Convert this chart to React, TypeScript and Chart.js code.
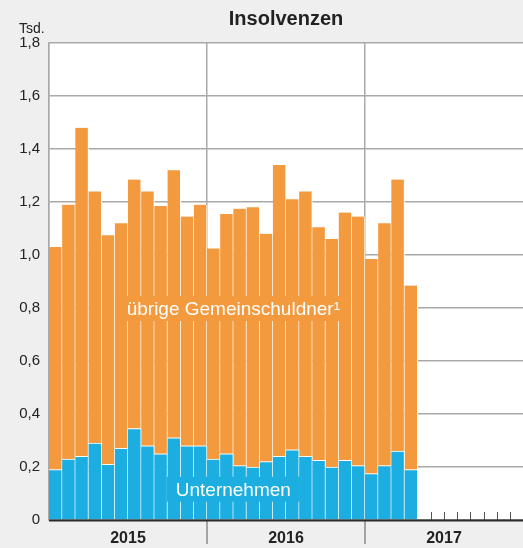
import React, { useEffect, useRef } from "react";
import { Chart, registerables } from "chart.js";

Chart.register(...registerables);

const months: string[] = [
  "Jan 2015", "Feb 2015", "Mär 2015", "Apr 2015", "Mai 2015", "Jun 2015",
  "Jul 2015", "Aug 2015", "Sep 2015", "Okt 2015", "Nov 2015", "Dez 2015",
  "Jan 2016", "Feb 2016", "Mär 2016", "Apr 2016", "Mai 2016", "Jun 2016",
  "Jul 2016", "Aug 2016", "Sep 2016", "Okt 2016", "Nov 2016", "Dez 2016",
  "Jan 2017", "Feb 2017", "Mär 2017", "Apr 2017", "Mai 2017", "Jun 2017",
  "Jul 2017", "Aug 2017", "Sep 2017", "Okt 2017", "Nov 2017", "Dez 2017",
];

const years: string[] = ["2015", "2016", "2017"];

// Tsd. – Unternehmen (blue, bottom)
const unternehmen: number[] = [
  0.19, 0.23, 0.24, 0.29, 0.21, 0.27, 0.345, 0.28, 0.25, 0.31, 0.28, 0.28,
  0.23, 0.25, 0.205, 0.2, 0.22, 0.24, 0.265, 0.24, 0.225, 0.2, 0.225, 0.205,
  0.175, 0.205, 0.26, 0.19,
];

// Tsd. – übrige Gemeinschuldner (orange, top)
const uebrige: number[] = [
  0.84, 0.96, 1.24, 0.95, 0.865, 0.85, 0.94, 0.96, 0.935, 1.01, 0.865, 0.91,
  0.795, 0.905, 0.97, 0.98, 0.86, 1.1, 0.945, 1.0, 0.88, 0.86, 0.935, 0.94,
  0.81, 0.915, 1.025, 0.695,
];

const yTicks: number[] = [0, 0.2, 0.4, 0.6, 0.8, 1.0, 1.2, 1.4, 1.6, 1.8];

const ORANGE = "#F39A3E";
const BLUE = "#1CAEE1";
const GRID = "#a9a9a9";
const FONT = "'Liberation Sans', Arial, Helvetica, sans-serif";

const decor = {
  id: "decor",
  beforeDraw(chart: any) {
    const { ctx, chartArea: a } = chart;
    ctx.save();
    ctx.fillStyle = "#ffffff";
    ctx.fillRect(a.left, a.top, a.right - a.left, a.bottom - a.top);
    ctx.restore();
  },
  afterDatasetsDraw(chart: any) {
    const { ctx, chartArea: a } = chart;
    const xs = chart.scales.x;
    const ys = chart.scales.y;
    const half = (xs.getPixelForValue(1) - xs.getPixelForValue(0)) / 2;
    ctx.save();

    // month ticks for months without data
    ctx.strokeStyle = "#555";
    ctx.lineWidth = 1;
    for (let i = unternehmen.length + 1; i < months.length; i++) {
      const x = Math.round(xs.getPixelForValue(i) - half) + 0.5;
      ctx.beginPath();
      ctx.moveTo(x, a.bottom - 8);
      ctx.lineTo(x, a.bottom);
      ctx.stroke();
    }

    // year separators below axis
    ctx.strokeStyle = "#8a8a8a";
    ctx.lineWidth = 1.5;
    for (let k = 1; k < years.length; k++) {
      const x = xs.getPixelForValue(k * 12) - half;
      ctx.beginPath();
      ctx.moveTo(x, a.bottom);
      ctx.lineTo(x, a.bottom + 24);
      ctx.stroke();
    }

    // x axis line
    ctx.strokeStyle = "#2a2a2a";
    ctx.lineWidth = 2;
    ctx.beginPath();
    ctx.moveTo(a.left, a.bottom + 0.5);
    ctx.lineTo(a.right, a.bottom + 0.5);
    ctx.stroke();

    // year labels
    ctx.fillStyle = "#222";
    ctx.font = `bold 16px ${FONT}`;
    ctx.textAlign = "center";
    ctx.textBaseline = "alphabetic";
    years.forEach((y, k) => {
      const x = xs.getPixelForValue(k * 12 + 6) - half;
      ctx.fillText(y, x, a.bottom + 23);
    });

    // series labels with backdrops
    const lbl = (text: string, bg: string, xv: number, yv: number) => {
      ctx.font = `19px ${FONT}`;
      const w = ctx.measureText(text).width;
      const cx = (xs.getPixelForValue(xv) + xs.getPixelForValue(xv + 1)) / 2;
      const cy = ys.getPixelForValue(yv);
      ctx.fillStyle = bg;
      ctx.fillRect(cx - w / 2 - 9, cy - 12, w + 18, 25);
      ctx.fillStyle = "#ffffff";
      ctx.textAlign = "center";
      ctx.textBaseline = "alphabetic";
      ctx.fillText(text, cx, cy + 7);
    };
    lbl("übrige Gemeinschuldner¹", ORANGE, 13, 0.8);
    lbl("Unternehmen", BLUE, 13, 0.118);

    // title
    ctx.fillStyle = "#222";
    ctx.font = `bold 20px ${FONT}`;
    ctx.textAlign = "center";
    ctx.fillText("Insolvenzen", (a.left + a.right) / 2, 25);

    // unit
    ctx.font = `14px ${FONT}`;
    ctx.textAlign = "left";
    ctx.fillText("Tsd.", 19, 33);

    ctx.restore();
  },
};

export default function App() {
  const ref = useRef<HTMLCanvasElement | null>(null);

  useEffect(() => {
    if (!ref.current) return;
    const chart = new Chart(ref.current, {
      type: "bar",
      data: {
        labels: months,
        datasets: [
          {
            label: "Unternehmen",
            data: unternehmen,
            backgroundColor: BLUE,
            borderColor: "#ffffff",
            borderWidth: { top: 1, right: 1, left: 0, bottom: 0 },
            borderSkipped: false,
            categoryPercentage: 1,
            barPercentage: 1,
            stack: "s",
          },
          {
            label: "übrige Gemeinschuldner",
            data: uebrige,
            backgroundColor: ORANGE,
            borderColor: "#ffffff",
            borderWidth: { top: 0, right: 1, left: 0, bottom: 0 },
            borderSkipped: false,
            categoryPercentage: 1,
            barPercentage: 1,
            stack: "s",
          },
        ],
      },
      options: {
        responsive: false,
        animation: false,
        layout: { padding: { top: 43, left: 0, right: 0, bottom: 0 } },
        plugins: {
          legend: { display: false },
          title: { display: false },
          tooltip: { enabled: false },
        },
        scales: {
          x: {
            stacked: true,
            offset: true,
            afterFit: (s: any) => {
              s.height = 28;
            },
            grid: {
              offset: true,
              drawTicks: false,
              lineWidth: 1.5,
              color: (c: any) => (c.index % 12 === 0 ? GRID : "rgba(0,0,0,0)"),
            },
            border: { display: false },
            ticks: { display: false, autoSkip: false },
          },
          y: {
            stacked: true,
            min: 0,
            max: 1.8,
            afterFit: (s: any) => {
              s.width = 49;
            },
            afterBuildTicks: (s: any) => {
              s.ticks = yTicks.map((v) => ({ value: v }));
            },
            grid: { color: GRID, lineWidth: 1.5, drawTicks: false },
            border: { display: true, color: GRID, width: 1.5 },
            ticks: {
              padding: 9,
              color: "#222",
              font: { family: FONT, size: 15 },
              callback: (v: any) =>
                Number(v) === 0 ? "0" : Number(v).toFixed(1).replace(".", ","),
            },
          },
        },
      },
      plugins: [decor],
    });
    return () => chart.destroy();
  }, []);

  return (
    <div
      style={{
        position: "fixed",
        left: 0,
        top: 0,
        width: 523,
        height: 548,
        background: "#efefef",
      }}
    >
      <canvas ref={ref} width={523} height={548} style={{ display: "block" }} />
    </div>
  );
}
